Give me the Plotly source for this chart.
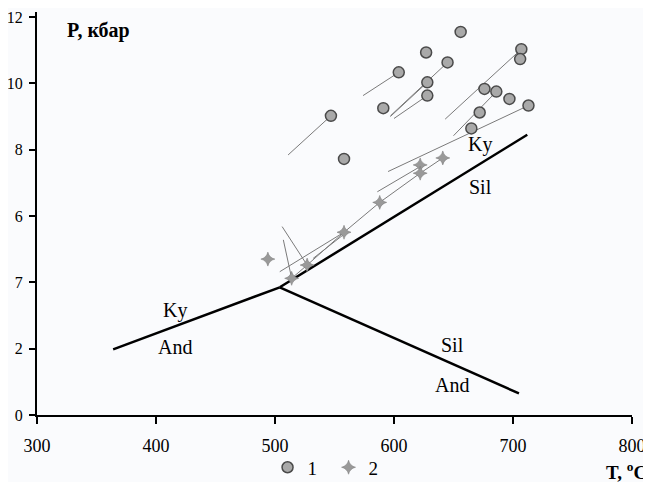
import plotly.graph_objects as go

# Series 1 (circles)
t1 = [656, 627, 707, 706, 645, 604, 628, 628, 676, 686, 697, 713, 591, 547, 672, 665, 558]
p1 = [11.55, 10.93, 11.03, 10.73, 10.63, 10.33, 10.03, 9.63, 9.83, 9.75, 9.53, 9.33, 9.25, 9.02, 9.12, 8.64, 7.72]
# Series 2 (stars)
t2 = [622, 622, 641, 588, 558, 527, 514, 494]
p2 = [7.54, 7.29, 7.75, 6.41, 5.51, 4.52, 4.12, 4.70]

# thin trend segments: (T0, P0) -> (T1, P1)
seg_t0 = [547, 604, 645, 628, 628, 707, 686, 713, 558, 527, 514, 622, 532, 514, 527, 558, 588, 622]
seg_p0 = [9.02, 10.33, 10.63, 10.03, 9.63, 11.03, 9.75, 9.33, 5.51, 4.52, 4.12, 7.49, 4.72, 4.12, 4.52, 5.51, 6.41, 7.29]
seg_t1 = [511, 574, 597, 597, 600, 643, 650, 595, 504, 506, 507, 586, 558, 527, 558, 588, 622, 641]
seg_p1 = [7.84, 9.63, 9.02, 9.00, 8.94, 8.92, 8.42, 7.34, 4.32, 5.68, 5.28, 6.73, 5.45, 4.52, 5.51, 6.41, 7.29, 7.75]

# phase boundaries
ky_and_t = [364, 504]
ky_and_p = [1.98, 3.85]
sil_and_t = [504, 705]
sil_and_p = [3.85, 0.65]
ky_sil_t = [504, 712]
ky_sil_p = [3.85, 8.45]

labels = ["Ky", "And", "Sil", "And", "Ky", "Sil"]
label_t = [416, 416, 649, 649, 672, 673]
label_p = [3.14, 2.06, 2.11, 0.9, 8.16, 6.88]

xticks = [300, 400, 500, 600, 700, 800]
yticks = [0, 2, 4, 6, 8, 10, 12]
ytick_text = ["0", "2", "7", "6", "8", "10", "12"]

FONT = "Liberation Serif"

fig = go.Figure()

sx, sy = [], []
for a, b, c, d in zip(seg_t0, seg_p0, seg_t1, seg_p1):
    sx += [a, c, None]
    sy += [b, d, None]
fig.add_trace(go.Scatter(x=sx, y=sy, mode="lines", line=dict(color="#7a7a7a", width=1),
                         showlegend=False, hoverinfo="skip"))

for xs, ys in [(ky_and_t, ky_and_p), (sil_and_t, sil_and_p), (ky_sil_t, ky_sil_p)]:
    fig.add_trace(go.Scatter(x=xs, y=ys, mode="lines", line=dict(color="black", width=2.5),
                             showlegend=False, hoverinfo="skip"))

fig.add_trace(go.Scatter(x=t1, y=p1, mode="markers", name="1",
                         marker=dict(symbol="circle", size=11, color="#a9a9a9",
                                     line=dict(color="#4a4a4a", width=1.5))))
fig.add_trace(go.Scatter(x=t2, y=p2, mode="markers", name="2",
                         marker=dict(symbol="star-diamond", size=10, color="#999999",
                                     line=dict(color="#777777", width=0.5))))

for txt, tx, ty in zip(labels, label_t, label_p):
    fig.add_annotation(x=tx, y=ty, text=txt, showarrow=False,
                       font=dict(family=FONT, size=20, color="black"))

fig.add_annotation(xref="paper", yref="paper", x=0.047, y=0.955, text="<b>P, кбар</b>",
                   showarrow=False, xanchor="left", yanchor="middle",
                   font=dict(family=FONT, size=20, color="black"))
fig.add_annotation(xref="paper", yref="paper", x=1.028, y=-0.138, text="<b>T, <sup>o</sup>C</b>",
                   showarrow=False, xanchor="right", yanchor="middle",
                   font=dict(family=FONT, size=19, color="black"))

# page body has an 8px default margin; figure is sized so the window shows it like the reference
fig.update_layout(
    width=643, height=474,
    margin=dict(l=29, r=19, t=4, b=67, autoexpand=False),
    paper_bgcolor="#fafbfd", plot_bgcolor="#fafbfd",
    font=dict(family=FONT, size=16, color="black"),
    showlegend=True,
    legend=dict(orientation="h", x=0.49, xanchor="center", y=-0.13, yanchor="middle",
                font=dict(family=FONT, size=19), bgcolor="rgba(0,0,0,0)",
                itemwidth=30, tracegroupgap=0, entrywidth=16, entrywidthmode="pixels"),
    xaxis=dict(range=[300, 800], tickvals=xticks, showgrid=False, zeroline=False,
               showline=True, linecolor="black", linewidth=2,
               ticks="outside", ticklen=7, tickwidth=1.5, tickcolor="black",
               ticklabelstandoff=6,
               tickfont=dict(family=FONT, size=18)),
    yaxis=dict(range=[0, 12.15], tickvals=yticks, ticktext=ytick_text, showgrid=False,
               zeroline=False, showline=True, linecolor="black", linewidth=2,
               ticks="outside", ticklen=6, tickwidth=1.5, tickcolor="black",
               ticklabelstandoff=3,
               tickfont=dict(family=FONT, size=16)),
)

fig.write_html("out.html")
